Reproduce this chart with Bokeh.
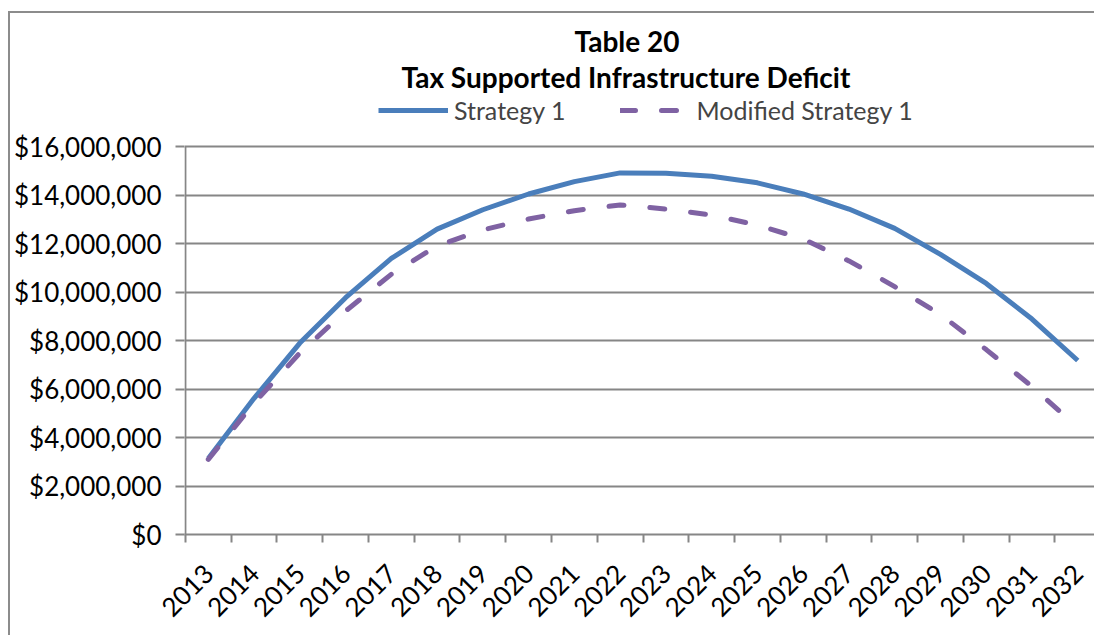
import math
from bokeh.plotting import figure
from bokeh.models import (Range1d, FixedTicker, NumeralTickFormatter, Legend, LegendItem, Title)
from bokeh.embed import file_html
from bokeh.resources import INLINE

years = ["2013", "2014", "2015", "2016", "2017", "2018", "2019", "2020", "2021", "2022",
         "2023", "2024", "2025", "2026", "2027", "2028", "2029", "2030", "2031", "2032"]
strategy1 = [3.14e6, 5.62e6, 7.90e6, 9.77e6, 11.39e6, 12.60e6, 13.40e6, 14.05e6, 14.56e6, 14.92e6,
             14.91e6, 14.78e6, 14.51e6, 14.05e6, 13.43e6, 12.63e6, 11.56e6, 10.36e6, 8.89e6, 7.18e6]
modified1 = [3.10e6, 5.42e6, 7.49e6, 9.22e6, 10.74e6, 11.91e6, 12.57e6, 13.02e6, 13.36e6, 13.60e6,
             13.43e6, 13.18e6, 12.77e6, 12.19e6, 11.29e6, 10.23e6, 9.08e6, 7.63e6, 6.11e6, 4.42e6]
y_ticks = [0, 2e6, 4e6, 6e6, 8e6, 10e6, 12e6, 14e6, 16e6]

FONT = "Lato"
GRID = "#868686"

xs = list(range(len(years)))
y_max = y_ticks[-1]
# extra headroom inside the frame to hold the legend above the top gridline
y_top = y_max * 1.1373

p = figure(width=1086, height=624, output_backend="svg", toolbar_location=None,
           x_range=Range1d(-0.52, 19.41), y_range=Range1d(0, y_top),
           min_border_left=174, min_border_right=0, min_border_top=0, min_border_bottom=103,
           outline_line_color=None, background_fill_color="white", border_fill_color="white",
           styles={"margin-left": "8px", "margin-top": "11px",
                   "border-left": "2px solid #8c8c8c", "border-top": "2px solid #8c8c8c"})

# y axis line only up to the top tick
p.segment(x0=[-0.5], y0=[0], x1=[-0.5], y1=[y_max], line_color=GRID, line_width=2)

r1 = p.line(xs, strategy1, line_color="#4a7ebb", line_width=5, line_join="round")
r2 = p.line(xs, modified1, line_color="#7f62a3", line_width=5, line_dash="15 26",
            line_cap="round", line_join="round")

# axes
p.yaxis.ticker = FixedTicker(ticks=y_ticks)
p.yaxis.formatter = NumeralTickFormatter(format="$0,0")
p.yaxis.major_tick_out = 9
p.yaxis.major_tick_in = 0
p.yaxis.minor_tick_line_color = None
p.yaxis.axis_line_color = None
p.yaxis.major_tick_line_color = GRID
p.yaxis.major_tick_line_width = 2
p.yaxis.major_label_text_font = FONT
p.yaxis.major_label_text_font_size = "26px"
p.yaxis.major_label_text_color = "black"
p.yaxis.major_label_standoff = 14

p.xaxis.ticker = FixedTicker(ticks=xs, minor_ticks=[i - 0.5 for i in range(len(years) + 1)])
p.xaxis.major_label_overrides = {i: y for i, y in enumerate(years)}
p.xaxis.major_label_orientation = math.pi / 4
p.xaxis.major_tick_out = 0
p.xaxis.major_tick_in = 0
p.xaxis.minor_tick_out = 8
p.xaxis.minor_tick_in = 0
p.xaxis.minor_tick_line_color = GRID
p.xaxis.minor_tick_line_width = 2
p.xaxis.axis_line_color = GRID
p.xaxis.axis_line_width = 2
p.xaxis.major_label_text_font = FONT
p.xaxis.major_label_text_font_size = "26px"
p.xaxis.major_label_text_line_height = 0.8
p.xaxis.major_label_text_color = "black"
p.xaxis.major_label_standoff = 26

p.xgrid.grid_line_color = None
p.ygrid.grid_line_color = GRID
p.ygrid.grid_line_width = 2

legend = Legend(items=[LegendItem(label="Strategy 1", renderers=[r1]),
                       LegendItem(label="Modified Strategy 1", renderers=[r2])],
                orientation="horizontal", location=(194, 409),
                label_text_font=FONT, label_text_font_size="25px",
                glyph_width=70, glyph_height=20, spacing=55, label_standoff=6,
                padding=0, margin=0, border_line_color=None, background_fill_alpha=0)
p.add_layout(legend, "center")
p.add_layout(Title(text="Tax Supported Infrastructure Deficit", align="left", offset=217,
                   text_font=FONT, text_font_size="28px", text_font_style="bold",
                   text_color="black", text_line_height=1.0, standoff=0), "above")
p.add_layout(Title(text="Table 20", align="left", offset=390,
                   text_font=FONT, text_font_size="28px", text_font_style="bold",
                   text_color="black", text_line_height=1.0, standoff=0), "above")
p.add_layout(Title(text=" ", text_font_size="5px", text_line_height=1.0, standoff=0), "above")

open("out.html", "w").write(file_html(p, INLINE))
